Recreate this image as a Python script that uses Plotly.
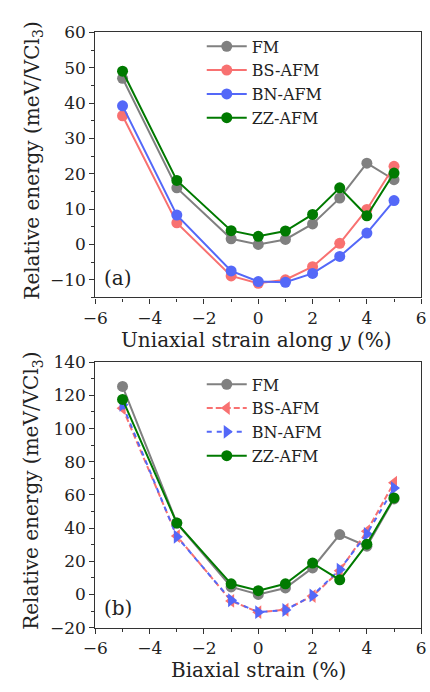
import plotly.graph_objects as go

# Strain values (%) shared by both panels
strain = [-5, -3, -1, 0, 1, 2, 3, 4, 5]

# (a) uniaxial strain along y: relative energy in meV/VCl3
uni_fm = [47.0, 16.0, 1.6, 0.0, 1.4, 5.8, 13.1, 23.0, 18.3]
uni_bs = [36.4, 6.1, -8.9, -11.0, -10.0, -6.3, 0.3, 9.9, 22.1]
uni_bn = [39.2, 8.3, -7.5, -10.5, -10.7, -8.2, -3.4, 3.2, 12.4]
uni_zz = [49.0, 18.1, 3.9, 2.3, 3.8, 8.5, 16.0, 8.1, 20.2]

# (b) biaxial strain: relative energy in meV/VCl3
bi_fm = [125.4, 43.0, 4.5, 0.0, 3.9, 16.0, 36.1, 29.1, 57.6]
bi_bs = [112.3, 35.2, -3.9, -10.7, -9.2, -1.0, 14.3, 38.1, 67.4]
bi_bn = [114.3, 34.8, -3.5, -10.7, -9.4, -0.6, 15.0, 36.5, 64.1]
bi_zz = [117.6, 43.0, 6.4, 2.3, 6.4, 18.9, 8.8, 30.3, 58.2]

names = ["FM", "BS-AFM", "BN-AFM", "ZZ-AFM"]
colors = ["#808080", "#f87171", "#5468f8", "#007a00"]

FONT = "DejaVu Serif"
W, H = 430, 692

fig = go.Figure()

# Panel (a)
for name, col, ys in zip(names, colors, [uni_fm, uni_bs, uni_bn, uni_zz]):
    fig.add_trace(go.Scatter(
        x=strain, y=ys, name=name, mode="lines+markers",
        line=dict(color=col, width=2),
        marker=dict(color=col, size=11, symbol="circle"),
        xaxis="x", yaxis="y", legend="legend",
    ))

# Panel (b)
styles_b = [
    ("circle", "solid", 11),
    ("triangle-left", "6px,3px", 12),
    ("triangle-right", "5px,5px", 12),
    ("circle", "solid", 11),
]
for name, col, ys, (sym, dash, sz) in zip(names, colors, [bi_fm, bi_bs, bi_bn, bi_zz], styles_b):
    fig.add_trace(go.Scatter(
        x=strain, y=ys, name=name, mode="lines+markers",
        line=dict(color=col, width=2, dash=dash),
        marker=dict(color=col, size=sz, symbol=sym),
        xaxis="x2", yaxis="y2", legend="legend2",
    ))

def px_y(p):
    return 1 - p / H

xdom = [86 / W, 426 / W]
axis_common = dict(
    showline=True, linecolor="#333", linewidth=1.3, mirror=True,
    ticks="outside", ticklen=5, tickwidth=1.2, tickcolor="#333",
    showgrid=False, zeroline=False, ticklabeloverflow="allow",
    tickfont=dict(family=FONT, size=17, color="#222"),
)
minor = dict(ticks="outside", ticklen=3, tickwidth=1, tickcolor="#333", showgrid=False)

legend_common = dict(
    xanchor="left", yanchor="top", bgcolor="rgba(0,0,0,0)",
    font=dict(family=FONT, size=16, color="#222"),
    itemwidth=40, tracegroupgap=0,
)

fig.update_layout(
    width=W, height=H,
    margin=dict(l=0, r=0, t=0, b=0),
    paper_bgcolor="white", plot_bgcolor="white",
    font=dict(family=FONT, size=17, color="#222"),
    xaxis=dict(domain=xdom, range=[-6, 6], dtick=2, anchor="y",
               minor=dict(dtick=1, **minor), **axis_common),
    yaxis=dict(domain=[px_y(296), px_y(23)], range=[-15, 60], dtick=10, anchor="x",
               minor=dict(dtick=5, **minor), **axis_common),
    xaxis2=dict(domain=xdom, range=[-6, 6], dtick=2, anchor="y2",
                minor=dict(dtick=1, **minor), **axis_common),
    yaxis2=dict(domain=[px_y(636), px_y(362.7)], range=[-20, 140], dtick=20, anchor="x2",
                minor=dict(dtick=10, **minor), **axis_common),
    legend=dict(x=197 / W, y=px_y(20), **legend_common),
    legend2=dict(x=197 / W, y=px_y(368), **legend_common),
)

ann = [
    dict(text="Relative energy (meV/VCl<sub>3</sub>)", x=20 / W, y=px_y(155),
         textangle=-90, size=20),
    dict(text="Relative energy (meV/VCl<sub>3</sub>)", x=20 / W, y=px_y(495),
         textangle=-90, size=20),
    dict(text="Uniaxial strain along <i>y</i> (%)", x=254 / W, y=px_y(340), size=20),
    dict(text="Biaxial strain (%)", x=256 / W, y=px_y(680), size=20),
    dict(text="(a)", x=110 / W, y=px_y(276), size=20),
    dict(text="(b)", x=110 / W, y=px_y(616), size=20),
]
for a in ann:
    size = a.pop("size")
    fig.add_annotation(xref="paper", yref="paper", showarrow=False,
                       xanchor="center", yanchor="middle",
                       font=dict(family=FONT, size=size, color="#222"), **a)

fig.write_html("out.html")
